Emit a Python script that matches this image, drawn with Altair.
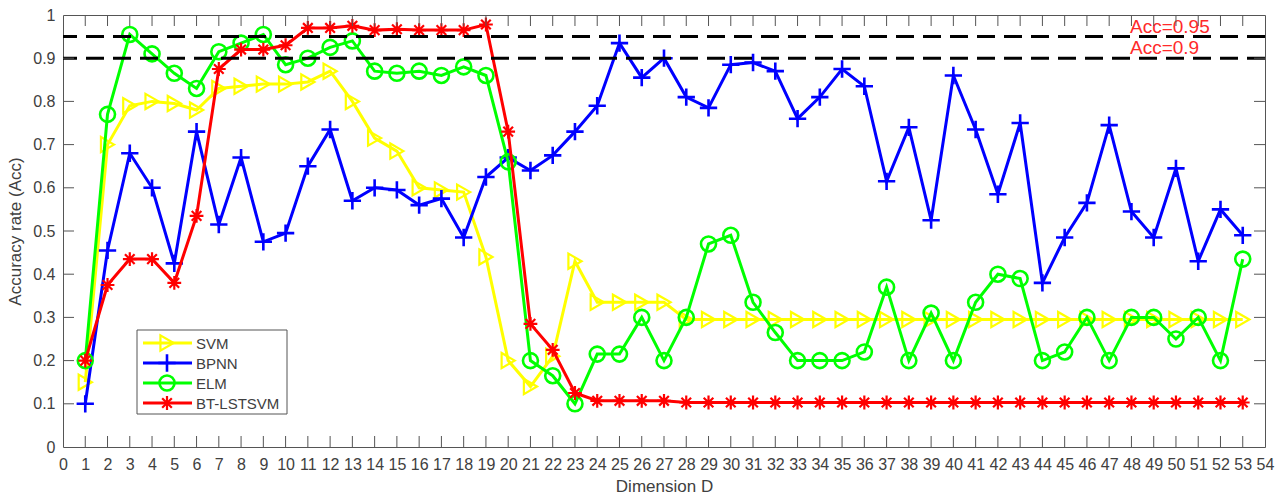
import altair as alt
import pandas as pd

# ---- data -----------------------------------------------------------------
dims = list(range(1, 54))

svm = [0.15, 0.70, 0.79, 0.80, 0.795, 0.78, 0.83, 0.835, 0.84, 0.84,
       0.845, 0.87, 0.80, 0.715, 0.685, 0.60, 0.595, 0.59, 0.44, 0.20,
       0.14, 0.21, 0.43, 0.335, 0.335, 0.335, 0.335, 0.295, 0.295, 0.295,
       0.295, 0.295, 0.295, 0.295, 0.295, 0.295, 0.295, 0.295, 0.295, 0.295,
       0.295, 0.295, 0.295, 0.295, 0.295, 0.295, 0.295, 0.295, 0.295, 0.295,
       0.295, 0.295, 0.295]

bpnn = [0.10, 0.455, 0.68, 0.60, 0.425, 0.73, 0.515, 0.67, 0.475, 0.495,
        0.65, 0.735, 0.57, 0.60, 0.595, 0.56, 0.575, 0.485, 0.625, 0.67,
        0.64, 0.675, 0.73, 0.79, 0.935, 0.855, 0.90, 0.81, 0.785, 0.885,
        0.89, 0.87, 0.76, 0.81, 0.875, 0.835, 0.615, 0.74, 0.525, 0.86,
        0.735, 0.585, 0.75, 0.38, 0.485, 0.565, 0.745, 0.545, 0.485, 0.645,
        0.43, 0.55, 0.49]

elm = [0.20, 0.77, 0.955, 0.91, 0.865, 0.83, 0.915, 0.935, 0.955, 0.885,
       0.90, 0.925, 0.94, 0.87, 0.865, 0.87, 0.86, 0.88, 0.86, 0.66,
       0.20, 0.165, 0.10, 0.215, 0.215, 0.30, 0.20, 0.30, 0.47, 0.49,
       0.335, 0.265, 0.20, 0.20, 0.20, 0.22, 0.37, 0.20, 0.31, 0.20,
       0.335, 0.40, 0.39, 0.20, 0.22, 0.30, 0.20, 0.30, 0.30, 0.25,
       0.30, 0.20, 0.435]

bt_lstsvm = [0.20, 0.375, 0.435, 0.435, 0.38, 0.535, 0.875, 0.92, 0.92, 0.93,
             0.97, 0.97, 0.975, 0.965, 0.967, 0.965, 0.965, 0.965, 0.978, 0.73,
             0.285, 0.225, 0.125, 0.107, 0.107, 0.107, 0.107, 0.103, 0.103, 0.103,
             0.103, 0.103, 0.103, 0.103, 0.103, 0.103, 0.103, 0.103, 0.103, 0.103,
             0.103, 0.103, 0.103, 0.103, 0.103, 0.103, 0.103, 0.103, 0.103, 0.103,
             0.103, 0.103, 0.103]

series_names = ["SVM", "BPNN", "ELM", "BT-LSTSVM"]
series_values = [svm, bpnn, elm, bt_lstsvm]

thresholds = [0.95, 0.9]
threshold_labels = ["Acc=0.95", "Acc=0.9"]

x_ticks = list(range(0, 55))
y_ticks = [0.0, 0.1, 0.2, 0.3, 0.4, 0.5, 0.6, 0.7, 0.8, 0.9, 1.0]

# ---- styling --------------------------------------------------------------
W, H = 1202, 432
FONT = "Liberation Sans"
AXIS_GREY = "#555555"
TEXT_GREY = "#404040"

styles = {
    "SVM": dict(color="#FFFF00", shape="triangle-right", size=230, sw=2.2),
    "BPNN": dict(color="#0000FF", shape="M-1,0L1,0M0,-1L0,1", size=300, sw=2.6),
    "ELM": dict(color="#00FF00", shape="circle", size=225, sw=2.6),
    "BT-LSTSVM": dict(color="#FF0000",
                      shape="M-1,0L1,0M0,-1L0,1M-0.7,-0.7L0.7,0.7M-0.7,0.7L0.7,-0.7",
                      size=190, sw=2.2),
}

x_scale = alt.Scale(domain=[0, 54], nice=False, zero=False)
y_scale = alt.Scale(domain=[0, 1], nice=False, zero=True)

x_axis = alt.Axis(values=x_ticks, title="Dimension D", tickSize=0, domain=False,
                  grid=False, labelFontSize=16, labelFont=FONT, labelColor=TEXT_GREY,
                  labelPadding=9, titleFontSize=17, titleFont=FONT, titleColor=TEXT_GREY,
                  titleFontWeight="normal", titlePadding=6, labelFlush=False,
                  labelOverlap=False)
y_axis = alt.Axis(values=y_ticks, title="Accuracy rate (Acc)", format=".1~f", tickSize=0,
                  domain=False, grid=False, labelFontSize=16, labelFont=FONT,
                  labelColor=TEXT_GREY, labelPadding=8, titleFontSize=17, titleFont=FONT,
                  titleColor=TEXT_GREY, titleFontWeight="normal", titlePadding=8,
                  labelFlush=False)


def X(field):
    return alt.X(field, type="quantitative", scale=x_scale, axis=x_axis)


def Y(field):
    return alt.Y(field, type="quantitative", scale=y_scale, axis=y_axis)


layers = []

# series: line then its markers, in plotting order
for name, vals in zip(series_names, series_values):
    st = styles[name]
    df = pd.DataFrame({"dim": dims, "acc": vals, "method": name})
    base = alt.Chart(df)
    layers.append(base.mark_line(color=st["color"], strokeWidth=3).encode(
        x=X("dim"), y=Y("acc")))
    layers.append(base.mark_point(shape=st["shape"], size=st["size"], filled=False,
                                  color=st["color"], strokeWidth=st["sw"], opacity=1).encode(
        x=X("dim"), y=Y("acc")))

# dashed accuracy thresholds
thr_df = pd.DataFrame({"acc": thresholds, "label": threshold_labels})
layers.append(alt.Chart(thr_df).mark_rule(color="black", strokeWidth=3,
                                          strokeDash=[18, 9]).encode(y=Y("acc")))
layers.append(alt.Chart(thr_df).mark_text(color="#FF2A2A", fontSize=19, font=FONT,
                                          align="left", baseline="alphabetic", dy=-4).encode(
    x=alt.value(1067), y=Y("acc"), text="label:N"))

# inward tick marks on all four sides
xt_df = pd.DataFrame({"dim": x_ticks[1:-1]})
yt_df = pd.DataFrame({"acc": y_ticks[1:-1]})
TL = 11
layers.append(alt.Chart(xt_df).mark_rule(color=AXIS_GREY, strokeWidth=1).encode(
    x=X("dim"), y=alt.value(H), y2=alt.value(H - TL)))
layers.append(alt.Chart(xt_df).mark_rule(color=AXIS_GREY, strokeWidth=1).encode(
    x=X("dim"), y=alt.value(0), y2=alt.value(TL)))
layers.append(alt.Chart(yt_df).mark_rule(color=AXIS_GREY, strokeWidth=1).encode(
    y=Y("acc"), x=alt.value(0), x2=alt.value(TL)))
layers.append(alt.Chart(yt_df).mark_rule(color=AXIS_GREY, strokeWidth=1).encode(
    y=Y("acc"), x=alt.value(W - TL), x2=alt.value(W)))

# legend box
one = pd.DataFrame({"k": [0]})
layers.append(alt.Chart(one).mark_rect(fill="white", stroke=AXIS_GREY, strokeWidth=1).encode(
    x=alt.value(74), x2=alt.value(224), y=alt.value(315), y2=alt.value(399)))
for i, name in enumerate(series_names):
    st = styles[name]
    ly = 328 + 20 * i
    entry = alt.Chart(pd.DataFrame({"method": [name]}))
    layers.append(entry.mark_rule(color=st["color"], strokeWidth=3).encode(
        x=alt.value(80), x2=alt.value(129), y=alt.value(ly)))
    layers.append(entry.mark_point(shape=st["shape"], size=st["size"], filled=False,
                                   color=st["color"], strokeWidth=st["sw"], opacity=1).encode(
        x=alt.value(104), y=alt.value(ly)))
    layers.append(entry.mark_text(align="left", baseline="middle", fontSize=15, font=FONT,
                                  color=TEXT_GREY).encode(
        x=alt.value(133), y=alt.value(ly + 1), text="method:N"))

chart = alt.layer(*layers).properties(
    width=W, height=H,
    autosize=alt.AutoSizeParams(type="none"),
    padding={"left": 63, "top": 15, "right": 16, "bottom": 52},
    background="white",
).configure_view(stroke=AXIS_GREY, strokeWidth=1)

chart.save("out.html", embed_options={"renderer": "svg", "actions": False})
